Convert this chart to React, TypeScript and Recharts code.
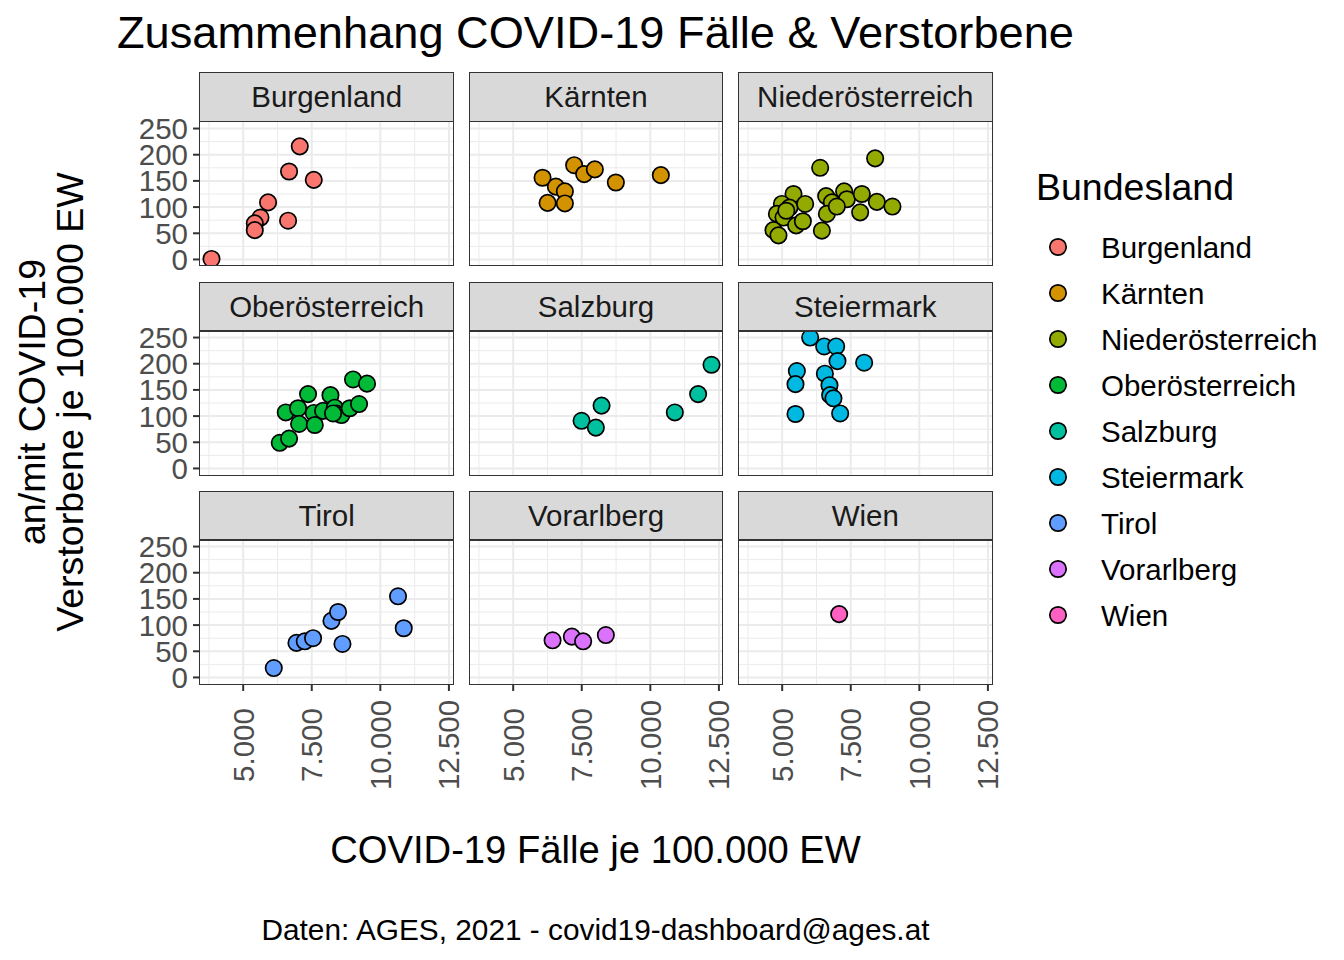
import React from 'react';
import { ScatterChart, Scatter, XAxis, YAxis, CartesianGrid } from 'recharts';

const regions = [
  'Burgenland', 'Kärnten', 'Niederösterreich',
  'Oberösterreich', 'Salzburg', 'Steiermark',
  'Tirol', 'Vorarlberg', 'Wien',
];
const colors = ['#F8766D', '#D39200', '#93AA00', '#00BA38', '#00C19F', '#00B9E3', '#619CFF', '#DB72FB', '#FF61C3'];

const burgenland = [[7063, 216], [6673, 168], [7573, 152], [5907, 109], [5630, 80], [5423, 69], [5423, 56], [6637, 74], [3845, 1]];
const kaernten = [[6071, 156], [6556, 139], [6884, 130], [6884, 107], [6254, 108], [7223, 180], [7587, 163], [7977, 172], [8743, 147], [10383, 161]];
const niederoesterreich = [[8389, 193], [6385, 175], [5413, 125], [4989, 106], [5267, 99], [5838, 106], [4807, 87], [5049, 80], [5510, 65], [5754, 73], [4683, 56], [4865, 46], [6603, 121], [6811, 109], [6629, 87], [6447, 55], [7259, 130], [7357, 115], [7904, 125], [7843, 90], [8451, 110], [9020, 101], [6993, 101], [5150, 93]];
const oberoesterreich = [[6334, 49], [6673, 57], [6552, 107], [7001, 115], [7038, 85], [7365, 142], [7573, 106], [7610, 83], [7912, 110], [8182, 140], [8338, 116], [8400, 105], [8582, 102], [8885, 115], [9005, 170], [9224, 123], [9515, 162], [8276, 105]];
const salzburg = [[12230, 198], [11742, 142], [10893, 107], [8222, 120], [7493, 91], [8014, 78]];
const steiermark = [[6020, 250], [6531, 233], [6968, 233], [7016, 205], [7988, 202], [5535, 186], [5485, 161], [6556, 181], [6724, 159], [6749, 140], [6870, 134], [7114, 105], [5485, 104]];
const tirol = [[6115, 18], [6942, 66], [7245, 69], [7548, 75], [8218, 108], [8459, 125], [8619, 64], [10645, 155], [10853, 94]];
const vorarlberg = [[6436, 71], [7139, 78], [7551, 69], [8378, 81]];
const wien = [[7077, 121]];

const regionData = [burgenland, kaernten, niederoesterreich, oberoesterreich, salzburg, steiermark, tirol, vorarlberg, wien];

const xTicks = [5000, 7500, 10000, 12500];
const xMinor = [3750, 6250, 8750, 11250];
const yTicks = [0, 50, 100, 150, 200, 250];
const yMinor = [25, 75, 125, 175, 225];

const title = 'Zusammenhang COVID-19 Fälle & Verstorbene';
const xTitle = 'COVID-19 Fälle je 100.000 EW';
const yTitle1 = 'an/mit COVID-19';
const yTitle2 = 'Verstorbene je 100.000 EW';
const caption = 'Daten: AGES, 2021 - covid19-dashboard@ages.at';
const legendTitle = 'Bundesland';

// domain with ggplot-like 5% expansion
const allX = regionData.flat().map((p) => p[0]);
const allY = regionData.flat().map((p) => p[1]);
const xMin = Math.min(...allX), xMax = Math.max(...allX);
const yMin = Math.min(0, ...allY), yMax = Math.max(...allY);
const xDomain = [xMin - 0.05 * (xMax - xMin), xMax + 0.05 * (xMax - xMin)];
const yDomain = [yMin - 0.05 * (yMax - yMin), yMax + 0.05 * (yMax - yMin)];

const fmtDe = (v: number) => {
  const s = Math.round(v).toString();
  return s.replace(/\B(?=(\d{3})+(?!\d))/g, '.');
};

const FONT = '"Liberation Sans", Arial, sans-serif';
const COL_LEFT = [200.2, 469.5, 738.8];
const ROW_TOP = [121.5, 331, 540];
const W = 253;
const H = 144;
const STRIP_H = 49.5;
const YW = 80;
const XH = 110;
const PAD_T = 18;
const PAD_B = 18;
const PAD_R = 32;
const TICK_FS = 29.5;
const R = 8.2;

const XTick = (props: any) => {
  const { x, y, payload } = props;
  return (
    <text
      transform={`translate(${x},${y + 54}) rotate(-90)`}
      textAnchor="middle"
      dominantBaseline="central"
      fontSize={TICK_FS}
      fill="#4D4D4D"
    >
      {fmtDe(payload.value)}
    </text>
  );
};

function Panel({ idx }: { idx: number }) {
  const col = idx % 3;
  const row = Math.floor(idx / 3);
  const showY = col === 0;
  const showX = row === 2;
  const width = (showY ? YW : 0) + W + PAD_R;
  const height = PAD_T + H + (showX ? XH : PAD_B);
  const left = COL_LEFT[col] - (showY ? YW : 0);
  const top = ROW_TOP[row] - PAD_T;
  const data = regionData[idx].map((p) => ({ x: p[0], y: p[1] }));
  const color = colors[idx];
  return (
    <div style={{ position: 'absolute', left, top, width, height }}>
      <ScatterChart
        width={width}
        height={height}
        margin={{ top: PAD_T, right: PAD_R, bottom: showX ? 0 : PAD_B, left: 0 }}
      >
        <CartesianGrid stroke="#EBEBEB" strokeWidth={1} verticalValues={xMinor} horizontalValues={yMinor} />
        <CartesianGrid stroke="#EBEBEB" strokeWidth={2} verticalValues={xTicks} horizontalValues={yTicks} />
        <XAxis
          type="number"
          dataKey="x"
          domain={xDomain}
          ticks={xTicks}
          interval={0}
          hide={!showX}
          height={showX ? XH : 0}
          axisLine={false}
          tickSize={7}
          tickMargin={0}
          tickLine={{ stroke: '#333333', strokeWidth: 2 }}
          tick={<XTick />}
          allowDataOverflow
        />
        <YAxis
          type="number"
          dataKey="y"
          domain={yDomain}
          ticks={yTicks}
          interval={0}
          hide={!showY}
          width={showY ? YW : 0}
          axisLine={false}
          tickSize={7}
          tickMargin={5}
          tickLine={{ stroke: '#333333', strokeWidth: 2 }}
          tick={{ fontSize: TICK_FS, fill: '#4D4D4D' }}
          allowDataOverflow
        />
        <Scatter
          data={data}
          isAnimationActive={false}
          shape={(p: any) => (
            <circle cx={p.cx} cy={p.cy} r={R} fill={color} stroke="#000000" strokeWidth={1.7} />
          )}
        />
      </ScatterChart>
    </div>
  );
}

export default function App() {
  return (
    <div style={{ position: 'absolute', left: 0, top: 0, width: 1344, height: 960, background: '#FFFFFF', fontFamily: FONT }}>
      {regions.map((r, i) => (
        <Panel key={r} idx={i} />
      ))}
      {regions.map((r, i) => {
        const col = i % 3;
        const row = Math.floor(i / 3);
        return (
          <React.Fragment key={'f' + r}>
            <div
              style={{
                position: 'absolute',
                left: COL_LEFT[col] - 0.75,
                top: ROW_TOP[row] - STRIP_H,
                width: W + 1.5,
                height: STRIP_H + 0.75,
                boxSizing: 'border-box',
                background: '#D9D9D9',
                border: '1.5px solid #333333',
                display: 'flex',
                alignItems: 'center',
                justifyContent: 'center',
                fontSize: TICK_FS,
                color: '#1A1A1A',
              }}
            >
              {r}
            </div>
            <div
              style={{
                position: 'absolute',
                left: COL_LEFT[col] - 0.75,
                top: ROW_TOP[row] - 0.75,
                width: W + 1.5,
                height: H + 1.5,
                boxSizing: 'border-box',
                border: '1.5px solid #333333',
                pointerEvents: 'none',
              }}
            />
          </React.Fragment>
        );
      })}
      <svg width={1344} height={960} style={{ position: 'absolute', left: 0, top: 0, pointerEvents: 'none', fontFamily: FONT }}>
        <text x={117} y={48} fontSize={45.2} fill="#000000">{title}</text>
        <text transform="translate(32,402) rotate(-90)" textAnchor="middle" dominantBaseline="central" fontSize={37.6} fill="#000000">{yTitle1}</text>
        <text transform="translate(70,402) rotate(-90)" textAnchor="middle" dominantBaseline="central" fontSize={37.6} fill="#000000">{yTitle2}</text>
        <text x={595.5} y={863} textAnchor="middle" fontSize={38.2} fill="#000000">{xTitle}</text>
        <text x={595.5} y={940} textAnchor="middle" fontSize={29.8} fill="#000000">{caption}</text>
        <text x={1036} y={200} fontSize={37.5} fill="#000000">{legendTitle}</text>
        {regions.map((r, i) => (
          <g key={'lg' + r}>
            <circle cx={1058} cy={247 + i * 46} r={R} fill={colors[i]} stroke="#000000" strokeWidth={1.7} />
            <text x={1101} y={247 + i * 46} dominantBaseline="central" fontSize={TICK_FS} fill="#000000">{r}</text>
          </g>
        ))}
      </svg>
    </div>
  );
}
